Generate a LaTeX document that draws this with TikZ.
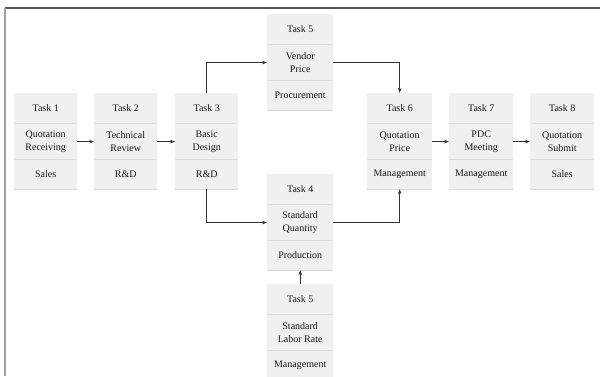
\documentclass[tikz,border=0pt]{standalone}
\usepackage{fontspec}
\setmainfont{Liberation Serif}
\usetikzlibrary{arrows.meta,positioning}
\definecolor{cellgray}{HTML}{F0F0F0}
\definecolor{sepgray}{HTML}{DADADA}
\definecolor{arrowgray}{HTML}{333333}
\definecolor{topframe}{HTML}{555555}
\definecolor{leftframe}{HTML}{A0A0A0}
\tikzset{
  cell/.style={rectangle, fill=cellgray, draw=none, inner sep=0pt, align=center,
    font=\fontsize{10}{13}\selectfont, anchor=north west, text=black!90},
  sepline/.style={draw=sepgray, line width=0.8pt},
  flow/.style={draw=arrowgray, line width=0.6pt, -{Stealth[length=5pt,width=3.5pt]}},
}
% \taskbox{name}{left x}{top y}{width}{title}{middle}{bottom}
\newcommand{\taskbox}[7]{%
  \node[cell, minimum width=#4pt, minimum height=30pt] (#1a) at (#2,#3) {#5};
  \node[cell, minimum width=#4pt, minimum height=36pt] (#1b) at (#1a.south west) {#6};
  \node[cell, minimum width=#4pt, minimum height=29pt] (#1c) at (#1b.south west) {#7};
  \draw[sepline] (#1a.south west) -- (#1a.south east);
  \draw[sepline] (#1b.south west) -- (#1b.south east);
  \draw[sepline] (#1c.south west) -- (#1c.south east);
}
\begin{document}
\begin{tikzpicture}[x=1pt,y=-1pt]
\clip (0,0) rectangle (600,376);
\fill[white] (0,0) rectangle (600,376);
\draw[topframe, line width=1.4pt] (4.5,8) -- (600,8);
\draw[leftframe, line width=1.8pt] (5,8) -- (5,376);

\taskbox{t1}{14}{93}{63}{Task 1}{Quotation\\Receiving}{Sales}
\taskbox{t2}{94}{93}{63}{Task 2}{Technical\\Review}{R\&D}
\taskbox{t3}{175}{93}{63}{Task 3}{Basic\\Design}{R\&D}
\taskbox{t5}{267}{14}{66}{Task 5}{Vendor\\Price}{Procurement}
\taskbox{t6}{367}{93}{65}{Task 6}{Quotation\\Price}{Management}
\taskbox{t7}{449}{93}{64}{Task 7}{PDC\\Meeting}{Management}
\taskbox{t8}{530}{93}{64}{Task 8}{Quotation\\Submit}{Sales}
\taskbox{t4}{267}{174}{66}{Task 4}{Standard\\Quantity}{Production}
\taskbox{s5}{267}{284}{66}{Task 5}{Standard\\Labor Rate}{Management}

\draw[flow] (t1b.east) -- (t2b.west);
\draw[flow] (t2b.east) -- (t3b.west);
\draw[flow] (t3a.north) |- (t5b.west);
\draw[flow] (t5b.east) -| (t6a.north);
\draw[flow] (t3c.south) |- (t4b.west);
\draw[flow] (t4b.east) -| (t6c.south);
\draw[flow] (s5a.north) -- (t4c.south);
\draw[flow] (t6b.east) -- (t7b.west);
\draw[flow] (t7b.east) -- (t8b.west);
\end{tikzpicture}
\end{document}
